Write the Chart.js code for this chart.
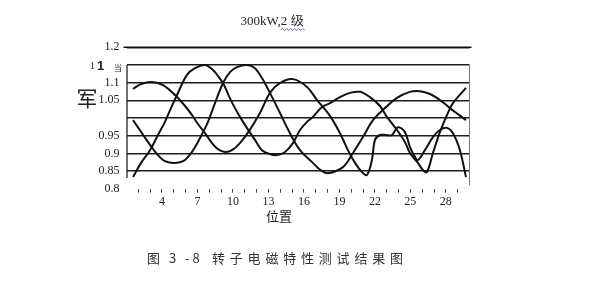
<!DOCTYPE html>
<html>
<head>
<meta charset="utf-8">
<script src="https://cdn.jsdelivr.net/npm/chart.js@4/dist/chart.umd.min.js"></script>
<style>
html,body{margin:0;padding:0;background:#fff;}
canvas{display:block;}
</style>
</head>
<body>
<canvas id="c" width="600" height="287"></canvas>
<script>
// ---- data ----
const titleText = "300kW,2 级";
const yAxisGlyph = "军";
const xAxisTitle = "位置";
const captionLeft = "图 3 -8";
const captionRight = "转子电磁特性测试结果图";

const xTickLabels = [4, 7, 10, 13, 16, 19, 22, 25, 28];
const yTickValues = [0.8, 0.85, 0.9, 0.95, 1.0, 1.05, 1.1, 1.15, 1.2];
const yTickLabels = ["0.8", "0.85", "0.9", "0.95", "", "1.05", "1.1", "", "1.2"];
const odd115Label = ["1", "1", "当"];

// curve A (starts near 1.08)
const posA = [1.55, 2.23, 3.16, 4.09, 5.10, 5.95, 6.54, 7.04, 7.64, 8.23, 8.73, 9.33, 9.92, 10.59, 11.36, 12.28, 13.13, 13.98, 15.07, 16.26, 17.10, 18.20, 19.05, 19.72, 20.32, 20.91, 21.33, 21.75, 22.01, 22.43, 22.94, 23.44, 23.95, 24.54, 24.96, 25.30, 25.64, 26.23, 26.91, 27.50, 28.09, 28.60, 29.19, 29.70];
const valA = [1.082, 1.096, 1.102, 1.093, 1.065, 1.034, 1.008, 0.983, 0.957, 0.929, 0.912, 0.904, 0.909, 0.929, 0.963, 1.014, 1.071, 1.099, 1.110, 1.088, 1.051, 1.006, 0.957, 0.909, 0.873, 0.847, 0.839, 0.881, 0.938, 0.952, 0.952, 0.952, 0.974, 0.960, 0.918, 0.895, 0.881, 0.909, 0.946, 0.966, 0.972, 0.957, 0.909, 0.833];

// curve B (starts near 0.99)
const posB = [1.55, 2.31, 2.99, 3.66, 4.25, 4.93, 5.52, 5.95, 6.54, 7.04, 7.47, 7.89, 8.48, 9.16, 9.75, 10.34, 11.19, 11.86, 12.45, 13.13, 13.98, 14.82, 15.67, 16.76, 17.40, 18.03, 19.30, 20.15, 20.99, 21.84, 22.85, 23.87, 24.96, 25.81, 26.66, 27.50, 28.35, 29.02, 29.70];
const valB = [0.994, 0.957, 0.924, 0.895, 0.878, 0.873, 0.875, 0.881, 0.904, 0.932, 0.960, 0.989, 1.042, 1.099, 1.130, 1.144, 1.150, 1.141, 1.113, 1.071, 1.014, 0.957, 0.909, 0.873, 0.853, 0.844, 0.861, 0.901, 0.946, 0.994, 1.028, 1.057, 1.074, 1.076, 1.068, 1.051, 1.028, 1.011, 0.994];

// curve C (starts near 0.83)
const posC = [1.55, 2.23, 2.99, 3.66, 4.25, 4.76, 5.27, 6.11, 6.79, 7.64, 8.31, 8.73, 9.16, 9.66, 10.17, 10.76, 11.36, 11.86, 12.45, 13.13, 13.72, 14.40, 15.07, 15.67, 16.26, 16.76, 17.53, 18.20, 19.05, 19.89, 20.74, 21.58, 22.43, 23.02, 23.87, 24.54, 24.96, 25.64, 26.06, 26.40, 26.91, 27.50, 28.09, 28.60, 29.70];
const valC = [0.833, 0.873, 0.909, 0.952, 0.989, 1.028, 1.065, 1.122, 1.141, 1.150, 1.136, 1.119, 1.099, 1.062, 1.028, 0.994, 0.963, 0.938, 0.909, 0.898, 0.895, 0.904, 0.929, 0.966, 0.989, 1.003, 1.031, 1.042, 1.059, 1.071, 1.074, 1.059, 1.034, 1.003, 0.966, 0.932, 0.901, 0.873, 0.853, 0.847, 0.901, 0.960, 1.008, 1.042, 1.085];

// ---- chart ----
const toPts = (xs, ys) => xs.map((x, i) => ({x: x, y: ys[i]}));
const lineStyle = {borderColor: '#111', borderWidth: 2, pointRadius: 0, fill: false,
  tension: 0.35};

const key = v => Math.round(v * 100);
const yLabelFor = v => {
  const i = yTickValues.findIndex(t => key(t) === key(v));
  return i >= 0 ? yTickLabels[i] : '';
};

const decor = {
  id: 'decor',
  beforeDatasetsDraw(chart) {
    const ctx = chart.ctx;
    const a = chart.chartArea;
    const ys = chart.scales.y;
    ctx.save();
    ctx.strokeStyle = '#222';
    ctx.lineWidth = 1.3;
    ctx.beginPath();
    ctx.moveTo(a.left + 0.5, ys.getPixelForValue(1.15));
    ctx.lineTo(a.left + 0.5, ys.getPixelForValue(0.83));
    ctx.stroke();
    ctx.strokeStyle = '#777';
    ctx.lineWidth = 1;
    ctx.beginPath();
    ctx.moveTo(a.right, ys.getPixelForValue(1.15));
    ctx.lineTo(a.right, ys.getPixelForValue(0.81));
    ctx.stroke();
    ctx.strokeStyle = '#111';
    ctx.lineWidth = 1.5;
    ctx.beginPath();
    ctx.moveTo(a.left - 3, ys.getPixelForValue(1.2));
    ctx.lineTo(a.right + 2, ys.getPixelForValue(1.2));
    ctx.stroke();
    ctx.restore();
  },
  afterDraw(chart) {
    const ctx = chart.ctx;
    const ys = chart.scales.y;
    ctx.save();
    ctx.fillStyle = '#222';
    ctx.textBaseline = 'middle';
    // title
    ctx.font = '13px "Liberation Serif", serif';
    ctx.textAlign = 'left';
    const tw = ctx.measureText(titleText).width;
    const tx = 272 - tw / 2;
    ctx.fillText(titleText, tx, 22);
    // wavy underline under "2 级"
    const pre = ctx.measureText("300kW,").width;
    ctx.strokeStyle = '#5a6fd0';
    ctx.lineWidth = 1;
    ctx.beginPath();
    let wx = tx + pre;
    const wEnd = tx + tw;
    let up = true;
    ctx.moveTo(wx, 30);
    while (wx < wEnd) { wx += 2; ctx.lineTo(wx, up ? 28.5 : 30.5); up = !up; }
    ctx.stroke();
    // odd 1.15 label
    const y115 = ys.getPixelForValue(1.15);
    ctx.font = '10px "Liberation Serif", serif';
    ctx.fillText(odd115Label[0], 90, y115 + 1);
    ctx.font = 'bold 13px "Liberation Sans", sans-serif';
    ctx.fillText(odd115Label[1], 97, y115 + 1);
    ctx.font = '8px "Noto Sans CJK SC", sans-serif';
    ctx.fillText(odd115Label[2], 114, y115 + 3);
    // big glyph
    ctx.font = '21px "Noto Sans CJK SC", sans-serif';
    ctx.textAlign = 'center';
    ctx.fillText(yAxisGlyph, 87, 98);
    // x axis title
    ctx.font = '13px "Noto Sans CJK SC", sans-serif';
    ctx.fillText(xAxisTitle, 279, 216);
    // caption
    ctx.fillStyle = '#333';
    ctx.textAlign = 'left';
    ctx.font = '13px "Noto Sans CJK SC", sans-serif';
    ctx.letterSpacing = '3px';
    ctx.fillText(captionLeft, 147, 258);
    ctx.letterSpacing = '4.8px';
    ctx.fillText(captionRight, 212, 258);
    ctx.restore();
  }
};

new Chart(document.getElementById('c'), {
  type: 'line',
  data: {
    datasets: [
      Object.assign({data: toPts(posA, valA)}, lineStyle),
      Object.assign({data: toPts(posB, valB)}, lineStyle),
      Object.assign({data: toPts(posC, valC)}, lineStyle)
    ]
  },
  options: {
    responsive: false,
    animation: false,
    devicePixelRatio: 1,
    layout: {padding: {left: 0, right: 130.5, top: 47.3, bottom: 68.3}},
    plugins: {legend: {display: false}, tooltip: {enabled: false}, title: {display: false}},
    scales: {
      x: {
        type: 'linear', min: 1, max: 30,
        afterFit: s => { s.height = 30; },
        border: {display: false},
        grid: {drawOnChartArea: false, drawTicks: true, tickLength: 4,
          color: c => (c.tick && (c.tick.value < 2 || c.tick.value > 29)) ? 'rgba(0,0,0,0)' : '#444',
          lineWidth: 1},
        ticks: {stepSize: 1, autoSkip: false, maxRotation: 0, padding: 2, color: '#222',
          font: {family: '"Liberation Serif", serif', size: 12},
          callback: v => xTickLabels.includes(v) ? String(v) : ''}
      },
      y: {
        min: 0.8, max: 1.2,
        afterFit: s => { s.width = 126.5; },
        border: {display: false},
        grid: {drawTicks: false, lineWidth: 1.4,
          color: c => (c.tick && key(c.tick.value) === 80) ? 'rgba(0,0,0,0)' : '#1e1e1e'},
        ticks: {stepSize: 0.05, padding: 7, color: '#222',
          font: {family: '"Liberation Serif", serif', size: 12},
          callback: v => yLabelFor(v)}
      }
    }
  },
  plugins: [decor]
});
</script>
</body>
</html>
